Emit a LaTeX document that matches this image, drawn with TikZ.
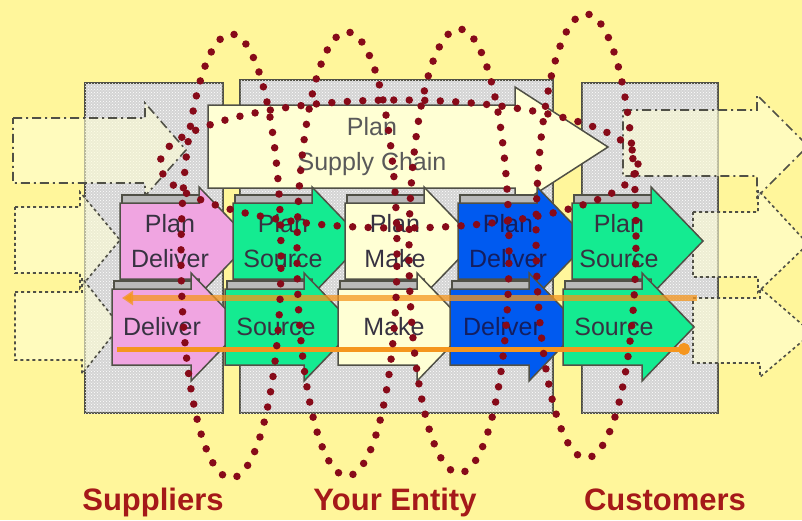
\documentclass[tikz,border=0pt]{standalone}
\usepackage{fontspec}
\setmainfont{Liberation Sans}
\usetikzlibrary{patterns,arrows.meta}

\definecolor{bgyellow}{RGB}{255,246,155}
\definecolor{boxgrey}{RGB}{212,212,212}
\definecolor{edgegrey}{RGB}{80,80,70}
\definecolor{creamfill}{RGB}{255,255,212}
\definecolor{pinkfill}{RGB}{240,165,225}
\definecolor{greenfill}{RGB}{20,235,145}
\definecolor{bluefill}{RGB}{0,90,240}
\definecolor{dotred}{RGB}{135,10,25}
\definecolor{labelred}{RGB}{165,25,25}
\definecolor{flow}{RGB}{245,150,30}
\definecolor{txtgrey}{RGB}{55,50,65}
\definecolor{txtnavy}{RGB}{20,30,95}

\tikzset{
  area/.style={draw=edgegrey, line width=1.5pt, fill=boxgrey,
    postaction={pattern=crosshatch dots, pattern color=white}},
  ghost/.style={draw=edgegrey, line width=1.6pt, fill=creamfill, fill opacity=0.6},
  dashdot/.style={dash pattern=on 9pt off 4pt on 2pt off 4pt},
  stage/.style={font=\fontsize{25}{35}\selectfont, align=center, text=txtgrey},
  flowline/.style={draw=flow, line width=6pt},
  dotloop/.style={draw=dotred, line width=7.5pt, line cap=round, dash pattern=on 0pt off 15.5pt},
  party/.style={font=\fontsize{31}{31}\selectfont\bfseries, text=labelred, anchor=base},
  pics/rowarrow/.style={code={
    \filldraw[fill=gray!55, draw=edgegrey, line width=1.2pt] (2,-46) rectangle (81,30);
    \filldraw[fill=#1, draw=edgegrey, line width=1.5pt]
      (0,-38) -- (79,-38) -- (79,-54) -- (131,0) -- (79,54) -- (79,38) -- (0,38) -- cycle;
  }}
}

\begin{document}
\begin{tikzpicture}[x=1pt, y=-1pt]
  \fill[bgyellow] (0,0) rectangle (802,520);
  \useasboundingbox (0,0) rectangle (802,520);

  %grey areas
  \path[area] (85,83) rectangle (223,413);
  \path[area] (240,80) rectangle (553,413);
  \path[area] (582,83) rectangle (718,413);

  %outside arrows, left
  \path[ghost, dashdot] (13,118) -- (145,118) -- (145,103) -- (186,150) -- (145,196) -- (145,183) -- (13,183) -- cycle;
  \path[ghost, dashed] (15,207) -- (80,207) -- (80,192) -- (120,240) -- (80,288) -- (80,273) -- (15,273) -- cycle;
  \path[ghost, dashed] (15,292) -- (82,292) -- (82,278) -- (120,326) -- (82,374) -- (82,360) -- (15,360) -- cycle;

  %outside arrows, right
  \path[ghost, dashdot] (623,110) -- (757,110) -- (757,95) -- (808,146) -- (757,197) -- (757,176) -- (623,176) -- cycle;
  \path[ghost, dashed] (693,212) -- (758,212) -- (758,190) -- (808,244) -- (758,292) -- (758,277) -- (693,277) -- cycle;
  \path[ghost, dashed] (693,298) -- (760,298) -- (760,288) -- (812,333) -- (760,377) -- (760,363) -- (693,363) -- cycle;

  %plan supply chain
  \filldraw[fill=creamfill, draw=edgegrey, line width=1.5pt]
    (208,105) -- (515,105) -- (515,87) -- (608,147) -- (515,207) -- (515,188) -- (208,188) -- cycle;
  \node[stage, text=black!65] (PLANSC) at (372,147) {Plan\\Supply Chain};

  %plan row
  \pic at (120,241) {rowarrow=pinkfill};
  \node[stage] (PDEL1) at (170,241) {Plan\\Deliver};
  \pic at (233,241) {rowarrow=greenfill};
  \node[stage] (PSRC1) at (283,241) {Plan\\Source};
  \pic at (345,241) {rowarrow=creamfill};
  \node[stage] (PMAKE) at (395,241) {Plan\\Make};
  \pic at (458,241) {rowarrow=bluefill};
  \node[stage, text=txtnavy] (PDEL2) at (508,241) {Plan\\Deliver};
  \pic at (572,241) {rowarrow=greenfill};
  \node[stage] (PSRC2) at (619,241) {Plan\\Source};

  %execution row
  \pic at (112,327) {rowarrow=pinkfill};
  \node[stage] (DEL1) at (162,327) {Deliver};
  \pic at (225,327) {rowarrow=greenfill};
  \node[stage] (SRC1) at (276,327) {Source};
  \pic at (338,327) {rowarrow=creamfill};
  \node[stage] (MAKE) at (394,327) {Make};
  \pic at (450,327) {rowarrow=bluefill};
  \node[stage, text=txtnavy] (DEL2) at (502,327) {Deliver};
  \pic at (563,327) {rowarrow=greenfill};
  \node[stage] (SRC2) at (614,327) {Source};

  %flows
  \coordinate (BACKR) at (697,298);
  \coordinate (BACKL) at (122,298);
  \coordinate (FWDL) at (117,349);
  \coordinate (FWDR) at (690,349);
  \draw[flowline, draw opacity=0.75, -{Triangle[length=11pt,width=14pt]}] (BACKR) -- (BACKL);
  \draw[flowline, line width=5pt, -{Circle[length=12pt]}] (FWDL) -- (FWDR);

  %dotted loops
  \draw[dotloop] (231,256) ellipse [x radius=50pt, y radius=222pt];
  \draw[dotloop] (347,254) ellipse [x radius=50pt, y radius=222pt];
  \draw[dotloop] (459,251) ellipse [x radius=50pt, y radius=222pt];
  \draw[dotloop] (586,236) ellipse [x radius=50pt, y radius=222pt];
  \draw[dotloop] (399,164) ellipse [x radius=239pt, y radius=64pt];

  \node[party] (SUPP) at (153,510) {Suppliers};
  \node[party] (ENT) at (395,510) {Your Entity};
  \node[party] (CUST) at (665,510) {Customers};
\end{tikzpicture}
\end{document}
